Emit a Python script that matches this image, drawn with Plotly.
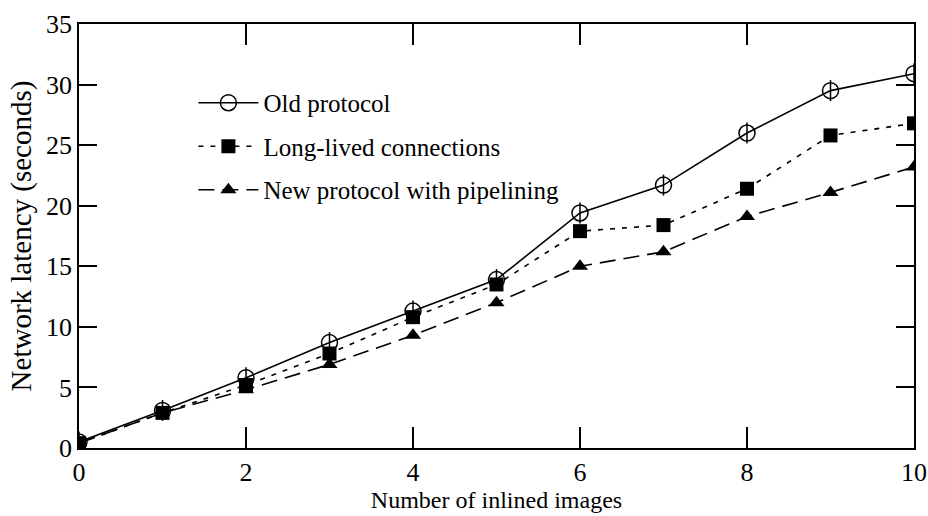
import plotly.graph_objects as go

images = [0, 1, 2, 3, 4, 5, 6, 7, 8, 9, 10]
old_protocol = [0.5, 3.1, 5.8, 8.7, 11.3, 13.9, 19.4, 21.7, 26.0, 29.5, 30.9]
long_lived = [0.4, 2.9, 5.2, 7.8, 10.8, 13.5, 17.9, 18.4, 21.4, 25.8, 26.8]
pipelining = [0.4, 2.9, 4.8, 6.9, 9.3, 12.0, 15.0, 16.2, 19.1, 21.1, 23.2]

x_ticks = [0, 2, 4, 6, 8, 10]
y_ticks = [0, 5, 10, 15, 20, 25, 30, 35]

font = "Liberation Serif, Times New Roman, serif"

fig = go.Figure()
fig.add_trace(go.Scatter(
    x=images, y=old_protocol, name="Old protocol", mode="lines+markers",
    legendgroup="a",
    line=dict(color="black", width=1.6, dash="solid"),
    marker=dict(symbol="circle-open", size=16, color="black", line=dict(width=1.5)),
))
fig.add_trace(go.Scatter(
    x=images, y=old_protocol, name="Old protocol", mode="markers",
    legendgroup="a", showlegend=False, hoverinfo="skip",
    marker=dict(symbol="line-ns-open", size=15, color="black", line=dict(width=1.5, color="black")),
))
fig.add_trace(go.Scatter(
    x=images, y=long_lived, name="Long-lived connections", mode="lines+markers",
    legendgroup="b",
    line=dict(color="black", width=1.6, dash="5px,7px"),
    marker=dict(symbol="square", size=14, color="black"),
))
fig.add_trace(go.Scatter(
    x=images, y=pipelining, name="New protocol with pipelining", mode="lines+markers",
    legendgroup="c",
    line=dict(color="black", width=1.6, dash="16px,8px"),
    marker=dict(symbol="triangle-up", size=14, color="black"),
))

axis_common = dict(
    showline=True, linecolor="black", linewidth=1.6, mirror="ticks",
    ticks="inside", tickcolor="black", tickwidth=1.6,
    showgrid=False, zeroline=False, automargin=False,
    tickfont=dict(family=font, size=26, color="black"),
)

fig.update_layout(
    width=928, height=516,
    margin=dict(l=79, r=14, t=24, b=68),
    paper_bgcolor="white", plot_bgcolor="white",
    font=dict(family=font, color="black"),
    showlegend=True,
    legend=dict(
        x=0.137, y=0.868, xanchor="left", yanchor="top",
        bgcolor="rgba(0,0,0,0)", borderwidth=0,
        font=dict(family=font, size=25, color="black"),
        itemwidth=60, tracegroupgap=8, traceorder="grouped",
    ),
    xaxis=dict(
        range=[0, 10], tickvals=x_ticks, ticklen=21,
        title=dict(text="Number of inlined images", font=dict(family=font, size=24, color="black"), standoff=0),
        **axis_common,
    ),
    yaxis=dict(
        range=[0, 35], tickvals=y_ticks, ticklen=18,
        title=dict(text="Network latency (seconds)", font=dict(family=font, size=29, color="black"), standoff=6),
        **axis_common,
    ),
)

fig.write_html(
    "out.html",
    config={"displayModeBar": False},
    post_script="document.body.style.margin='0';document.body.style.overflow='hidden';",
)
